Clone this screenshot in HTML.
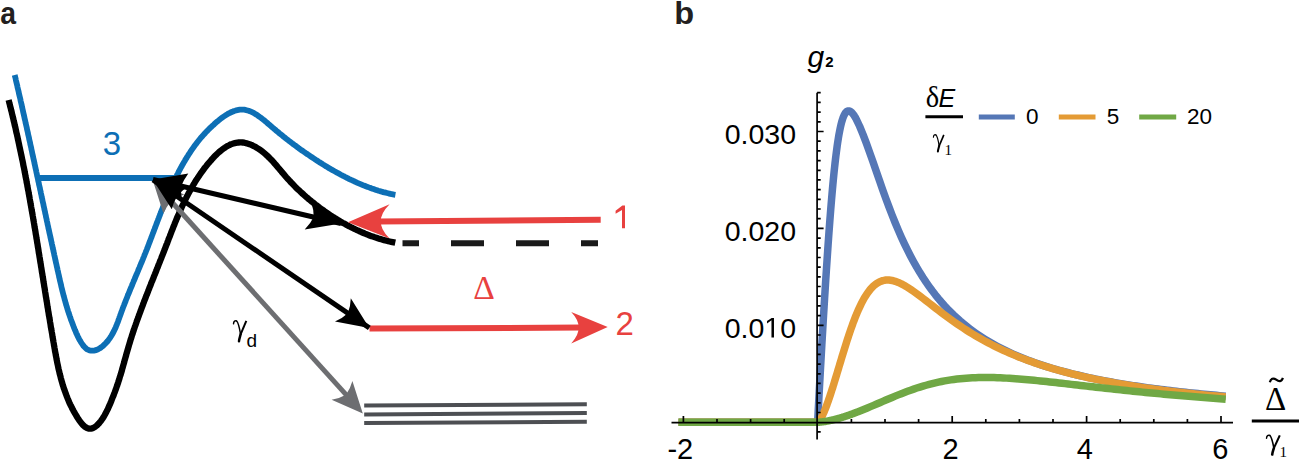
<!DOCTYPE html>
<html><head><meta charset="utf-8"><style>
html,body{margin:0;padding:0;background:#fff;}
body{width:1299px;height:460px;overflow:hidden;font-family:"Liberation Sans",sans-serif;}
svg{display:block;}
</style></head><body>
<svg width="1299" height="460" viewBox="0 0 1299 460">
<path d="M14.7,75.0 L15.0,76.2 L15.3,77.4 L15.6,78.6 L15.8,79.8 L16.1,81.1 L16.4,82.3 L16.7,83.5 L17.0,84.7 L17.3,85.9 L17.5,87.1 L17.8,88.4 L18.1,89.6 L18.4,90.8 L18.7,92.0 L18.9,93.3 L19.2,94.5 L19.5,95.7 L19.8,96.9 L20.1,98.2 L20.4,99.4 L20.6,100.6 L20.9,101.9 L21.2,103.1 L21.5,104.3 L21.8,105.6 L22.0,106.8 L22.3,108.0 L22.6,109.3 L22.9,110.5 L23.1,111.8 L23.4,113.0 L23.7,114.2 L24.0,115.5 L24.3,116.7 L24.5,118.0 L24.8,119.2 L25.1,120.4 L25.4,121.7 L25.6,122.9 L25.9,124.2 L26.2,125.4 L26.5,126.7 L26.8,127.9 L27.0,129.2 L27.3,130.4 L27.6,131.7 L27.9,132.9 L28.1,134.2 L28.4,135.4 L28.7,136.7 L29.0,137.9 L29.2,139.2 L29.5,140.4 L29.8,141.7 L30.1,142.9 L30.3,144.2 L30.6,145.4 L30.9,146.7 L31.2,147.9 L31.4,149.2 L31.7,150.4 L32.0,151.7 L32.2,153.0 L32.5,154.2 L32.8,155.5 L33.1,156.7 L33.3,158.0 L33.6,159.2 L33.9,160.5 L34.2,161.7 L34.4,163.0 L34.7,164.3 L35.0,165.5 L35.2,166.8 L35.5,168.0 L35.8,169.3 L36.1,170.5 L36.3,171.8 L36.6,173.1 L36.9,174.3 L37.1,175.6 L37.4,176.8 L37.7,178.1 L38.0,179.3 L38.2,180.6 L38.5,181.9 L38.8,183.1 L39.0,184.4 L39.3,185.6 L39.6,186.9 L39.9,188.1 L40.1,189.4 L40.4,190.6 L40.7,191.9 L40.9,193.1 L41.2,194.4 L41.5,195.7 L41.7,196.9 L42.0,198.2 L42.3,199.4 L42.5,200.7 L42.8,201.9 L43.1,203.2 L43.4,204.4 L43.6,205.7 L43.9,206.9 L44.2,208.2 L44.4,209.4 L44.7,210.7 L45.0,211.9 L45.2,213.2 L45.5,214.4 L45.8,215.6 L46.0,216.9 L46.3,218.1 L46.6,219.4 L46.8,220.6 L47.1,221.9 L47.4,223.1 L47.6,224.4 L47.9,225.6 L48.2,226.8 L48.4,228.1 L48.7,229.3 L49.0,230.5 L49.2,231.8 L49.5,233.0 L49.8,234.3 L50.1,235.5 L50.3,236.7 L50.6,238.0 L50.9,239.2 L51.1,240.4 L51.4,241.6 L51.7,242.9 L51.9,244.1 L52.2,245.3 L52.5,246.6 L52.7,247.8 L53.0,249.0 L53.3,250.2 L53.5,251.4 L53.8,252.7 L54.1,253.9 L54.3,255.1 L54.6,256.3 L54.9,257.5 L55.1,258.7 L55.4,260.0 L55.7,261.2 L55.9,262.4 L56.2,263.6 L56.5,264.8 L56.7,266.0 L57.0,267.2 L57.3,268.4 L57.5,269.6 L57.8,270.8 L58.1,272.0 L58.3,273.2 L58.6,274.4 L58.9,275.6 L59.1,276.8 L59.4,278.0 L59.7,279.2 L59.9,280.4 L60.2,281.6 L60.5,282.8 L60.8,284.0 L61.1,285.2 L61.3,286.4 L61.6,287.6 L61.9,288.8 L62.2,290.0 L62.5,291.2 L62.8,292.4 L63.1,293.6 L63.4,294.8 L63.7,296.0 L64.1,297.2 L64.4,298.4 L64.7,299.7 L65.1,300.9 L65.4,302.1 L65.8,303.3 L66.1,304.6 L66.5,305.8 L66.9,307.0 L67.2,308.3 L67.6,309.5 L68.0,310.8 L68.4,312.0 L68.8,313.3 L69.3,314.6 L69.7,315.9 L70.1,317.1 L70.6,318.4 L71.0,319.7 L71.5,321.0 L72.0,322.3 L72.5,323.6 L73.0,324.9 L73.5,326.3 L74.0,327.6 L74.5,328.9 L75.1,330.3 L75.7,331.6 L76.2,333.0 L76.9,334.3 L77.5,335.7 L78.1,337.0 L78.8,338.4 L79.5,339.7 L80.3,341.0 L81.0,342.3 L81.8,343.5 L82.6,344.7 L83.4,345.8 L84.3,346.8 L85.2,347.7 L86.1,348.5 L87.0,349.2 L87.9,349.7 L88.9,350.1 L89.8,350.5 L90.8,350.7 L91.8,350.7 L92.8,350.7 L93.8,350.6 L94.9,350.4 L95.9,350.1 L96.9,349.8 L97.9,349.3 L98.9,348.8 L99.9,348.2 L100.9,347.5 L101.9,346.8 L102.9,346.0 L103.8,345.1 L104.8,344.2 L105.7,343.3 L106.6,342.3 L107.5,341.3 L108.3,340.2 L109.2,339.1 L110.0,338.0 L110.7,336.8 L111.4,335.7 L112.1,334.5 L112.8,333.3 L113.4,332.1 L114.0,330.9 L114.6,329.7 L115.2,328.5 L115.7,327.3 L116.2,326.0 L116.7,324.8 L117.2,323.5 L117.7,322.3 L118.2,321.0 L118.6,319.8 L119.1,318.5 L119.5,317.3 L120.0,316.0 L120.4,314.8 L120.9,313.6 L121.3,312.3 L121.8,311.1 L122.2,309.9 L122.7,308.6 L123.1,307.4 L123.6,306.2 L124.1,305.0 L124.5,303.8 L125.0,302.6 L125.5,301.4 L125.9,300.2 L126.4,299.0 L126.9,297.8 L127.4,296.6 L127.8,295.4 L128.3,294.3 L128.8,293.1 L129.3,291.9 L129.8,290.7 L130.2,289.6 L130.7,288.4 L131.2,287.2 L131.7,286.1 L132.2,284.9 L132.6,283.7 L133.1,282.6 L133.6,281.4 L134.1,280.3 L134.6,279.1 L135.1,277.9 L135.5,276.8 L136.0,275.6 L136.5,274.5 L137.0,273.3 L137.5,272.2 L138.0,271.0 L138.4,269.9 L138.9,268.7 L139.4,267.6 L139.9,266.4 L140.4,265.3 L140.8,264.1 L141.3,263.0 L141.8,261.8 L142.3,260.6 L142.8,259.5 L143.2,258.3 L143.7,257.2 L144.2,256.0 L144.6,254.8 L145.1,253.7 L145.6,252.5 L146.0,251.3 L146.5,250.2 L147.0,249.0 L147.4,247.8 L147.9,246.7 L148.3,245.5 L148.8,244.3 L149.2,243.1 L149.7,241.9 L150.1,240.8 L150.6,239.6 L151.0,238.4 L151.5,237.2 L151.9,236.0 L152.4,234.8 L152.8,233.6 L153.3,232.5 L153.7,231.3 L154.2,230.1 L154.6,228.9 L155.1,227.7 L155.5,226.5 L156.0,225.3 L156.4,224.1 L156.9,222.9 L157.3,221.7 L157.8,220.5 L158.2,219.3 L158.7,218.2 L159.1,217.0 L159.6,215.8 L160.1,214.6 L160.5,213.4 L161.0,212.2 L161.4,211.0 L161.9,209.8 L162.4,208.6 L162.8,207.5 L163.3,206.3 L163.8,205.1 L164.3,203.9 L164.7,202.7 L165.2,201.5 L165.7,200.4 L166.2,199.2 L166.7,198.0 L167.2,196.8 L167.6,195.7 L168.1,194.5 L168.6,193.3 L169.1,192.1 L169.6,191.0 L170.2,189.8 L170.7,188.6 L171.2,187.5 L171.7,186.3 L172.2,185.2 L172.8,184.0 L173.3,182.9 L173.8,181.7 L174.4,180.6 L174.9,179.4 L175.5,178.3 L176.0,177.2 L176.6,176.0 L177.1,174.9 L177.7,173.8 L178.3,172.6 L178.9,171.5 L179.4,170.4 L180.0,169.3 L180.6,168.2 L181.2,167.1 L181.8,166.0 L182.4,164.9 L183.1,163.8 L183.7,162.7 L184.3,161.6 L185.0,160.5 L185.6,159.4 L186.3,158.4 L186.9,157.3 L187.6,156.2 L188.2,155.2 L188.9,154.1 L189.6,153.1 L190.3,152.0 L191.0,151.0 L191.7,149.9 L192.4,148.9 L193.2,147.9 L193.9,146.8 L194.6,145.8 L195.4,144.8 L196.2,143.8 L196.9,142.8 L197.7,141.8 L198.5,140.8 L199.3,139.8 L200.1,138.8 L200.9,137.8 L201.8,136.9 L202.6,135.9 L203.5,134.9 L204.3,134.0 L205.2,133.0 L206.1,132.1 L207.0,131.1 L207.9,130.2 L208.8,129.3 L209.7,128.4 L210.7,127.5 L211.6,126.6 L212.6,125.7 L213.6,124.8 L214.5,123.9 L215.5,123.0 L216.6,122.1 L217.6,121.3 L218.6,120.4 L219.7,119.6 L220.7,118.7 L221.8,117.9 L222.9,117.1 L224.0,116.4 L225.1,115.7 L226.2,114.9 L227.3,114.3 L228.4,113.6 L229.5,113.0 L230.6,112.5 L231.7,112.0 L232.9,111.5 L234.0,111.0 L235.1,110.7 L236.3,110.3 L237.4,110.1 L238.5,109.9 L239.7,109.7 L240.8,109.6 L242.0,109.6 L243.1,109.6 L244.2,109.7 L245.3,109.9 L246.5,110.2 L247.6,110.5 L248.7,110.8 L249.8,111.2 L250.9,111.7 L252.0,112.2 L253.1,112.7 L254.2,113.3 L255.3,114.0 L256.4,114.6 L257.5,115.3 L258.5,116.1 L259.6,116.9 L260.7,117.6 L261.8,118.5 L262.8,119.3 L263.9,120.1 L265.0,121.0 L266.0,121.9 L267.1,122.8 L268.1,123.7 L269.1,124.5 L270.2,125.4 L271.2,126.3 L272.2,127.2 L273.3,128.1 L274.3,129.0 L275.3,129.8 L276.3,130.7 L277.3,131.5 L278.3,132.3 L279.3,133.2 L280.3,134.0 L281.3,134.8 L282.3,135.6 L283.3,136.4 L284.3,137.2 L285.2,138.0 L286.2,138.7 L287.2,139.5 L288.2,140.3 L289.2,141.0 L290.2,141.8 L291.1,142.5 L292.1,143.3 L293.1,144.0 L294.1,144.7 L295.1,145.5 L296.1,146.2 L297.0,146.9 L298.0,147.6 L299.0,148.4 L300.0,149.1 L301.0,149.8 L302.0,150.5 L303.0,151.2 L304.0,151.9 L305.1,152.6 L306.1,153.3 L307.1,154.0 L308.1,154.7 L309.2,155.4 L310.2,156.1 L311.2,156.8 L312.3,157.5 L313.3,158.2 L314.4,158.9 L315.4,159.6 L316.5,160.3 L317.6,161.0 L318.6,161.7 L319.7,162.4 L320.8,163.0 L321.9,163.7 L322.9,164.4 L324.0,165.1 L325.1,165.7 L326.2,166.4 L327.3,167.0 L328.4,167.7 L329.5,168.4 L330.6,169.0 L331.7,169.7 L332.9,170.3 L334.0,170.9 L335.1,171.6 L336.2,172.2 L337.4,172.8 L338.5,173.4 L339.6,174.0 L340.8,174.7 L341.9,175.3 L343.0,175.9 L344.2,176.4 L345.3,177.0 L346.5,177.6 L347.6,178.2 L348.8,178.8 L349.9,179.3 L351.1,179.9 L352.3,180.4 L353.4,181.0 L354.6,181.5 L355.8,182.0 L356.9,182.6 L358.1,183.1 L359.3,183.6 L360.5,184.1 L361.7,184.6 L362.8,185.1 L364.0,185.6 L365.2,186.0 L366.4,186.5 L367.6,186.9 L368.8,187.4 L370.0,187.8 L371.2,188.3 L372.4,188.7 L373.6,189.1 L374.8,189.5 L376.0,189.9 L377.2,190.3 L378.4,190.7 L379.6,191.0 L380.8,191.4 L382.0,191.7 L383.2,192.1 L384.4,192.4 L385.7,192.7 L386.9,193.0 L388.1,193.3 L389.3,193.6 L390.5,193.9 L391.7,194.2 L393.0,194.4 L394.2,194.7 L395.4,194.9" fill="none" stroke="#0d6fb5" stroke-width="5.8"/>
<line x1="38" y1="178.1" x2="178" y2="178.1" stroke="#0d6fb5" stroke-width="6"/>
<path d="M8.6,100.0 L9.0,101.4 L9.3,102.8 L9.7,104.2 L10.0,105.6 L10.4,107.1 L10.8,108.5 L11.1,109.9 L11.5,111.3 L11.8,112.7 L12.1,114.1 L12.5,115.5 L12.8,116.9 L13.2,118.3 L13.5,119.8 L13.8,121.2 L14.2,122.6 L14.5,124.0 L14.8,125.4 L15.2,126.8 L15.5,128.2 L15.8,129.6 L16.1,131.0 L16.4,132.5 L16.8,133.9 L17.1,135.3 L17.4,136.7 L17.7,138.1 L18.0,139.5 L18.3,140.9 L18.6,142.3 L18.9,143.7 L19.2,145.2 L19.5,146.6 L19.8,148.0 L20.1,149.4 L20.4,150.8 L20.7,152.2 L21.0,153.6 L21.3,155.0 L21.6,156.4 L21.9,157.9 L22.2,159.3 L22.5,160.7 L22.8,162.1 L23.1,163.5 L23.3,164.9 L23.6,166.3 L23.9,167.7 L24.2,169.1 L24.5,170.6 L24.7,172.0 L25.0,173.4 L25.3,174.8 L25.5,176.2 L25.8,177.6 L26.1,179.0 L26.4,180.4 L26.6,181.9 L26.9,183.3 L27.2,184.7 L27.4,186.1 L27.7,187.5 L27.9,188.9 L28.2,190.3 L28.5,191.7 L28.7,193.2 L29.0,194.6 L29.2,196.0 L29.5,197.4 L29.7,198.8 L30.0,200.2 L30.2,201.6 L30.5,203.0 L30.7,204.5 L31.0,205.9 L31.2,207.3 L31.5,208.7 L31.7,210.1 L32.0,211.5 L32.2,212.9 L32.5,214.4 L32.7,215.8 L33.0,217.2 L33.2,218.6 L33.4,220.0 L33.7,221.4 L33.9,222.8 L34.2,224.3 L34.4,225.7 L34.6,227.1 L34.9,228.5 L35.1,229.9 L35.4,231.3 L35.6,232.7 L35.8,234.2 L36.1,235.6 L36.3,237.0 L36.5,238.4 L36.8,239.8 L37.0,241.2 L37.2,242.7 L37.5,244.1 L37.7,245.5 L37.9,246.9 L38.2,248.3 L38.4,249.7 L38.6,251.2 L38.8,252.6 L39.1,254.0 L39.3,255.4 L39.5,256.8 L39.8,258.3 L40.0,259.7 L40.2,261.1 L40.4,262.5 L40.7,263.9 L40.9,265.3 L41.1,266.8 L41.4,268.2 L41.6,269.6 L41.8,271.0 L42.0,272.4 L42.3,273.9 L42.5,275.3 L42.7,276.7 L43.0,278.1 L43.2,279.5 L43.4,281.0 L43.6,282.4 L43.9,283.8 L44.1,285.2 L44.3,286.7 L44.6,288.1 L44.8,289.5 L45.0,290.9 L45.2,292.3 L45.5,293.8 L45.7,295.2 L45.9,296.6 L46.2,298.0 L46.4,299.5 L46.6,300.9 L46.9,302.3 L47.1,303.7 L47.3,305.2 L47.5,306.6 L47.8,308.0 L48.0,309.4 L48.2,310.9 L48.5,312.3 L48.7,313.7 L48.9,315.2 L49.2,316.6 L49.4,318.0 L49.7,319.4 L49.9,320.9 L50.1,322.3 L50.4,323.7 L50.6,325.1 L50.8,326.6 L51.1,328.0 L51.3,329.4 L51.6,330.9 L51.8,332.3 L52.1,333.7 L52.3,335.2 L52.5,336.6 L52.8,338.0 L53.0,339.4 L53.3,340.9 L53.5,342.3 L53.8,343.7 L54.0,345.2 L54.3,346.6 L54.5,348.0 L54.8,349.5 L55.0,350.9 L55.3,352.3 L55.6,353.8 L55.8,355.2 L56.1,356.6 L56.4,358.1 L56.6,359.5 L56.9,360.9 L57.2,362.4 L57.5,363.8 L57.8,365.2 L58.1,366.6 L58.4,368.1 L58.7,369.5 L59.1,370.9 L59.4,372.3 L59.7,373.8 L60.1,375.2 L60.5,376.6 L60.8,378.0 L61.2,379.4 L61.6,380.8 L62.0,382.2 L62.4,383.6 L62.8,385.1 L63.3,386.5 L63.7,387.9 L64.2,389.2 L64.7,390.6 L65.2,392.0 L65.7,393.4 L66.2,394.8 L66.7,396.2 L67.3,397.6 L67.8,398.9 L68.4,400.3 L69.0,401.7 L69.6,403.1 L70.2,404.4 L70.9,405.8 L71.6,407.1 L72.2,408.5 L73.0,409.8 L73.7,411.2 L74.4,412.5 L75.2,413.8 L76.0,415.2 L76.8,416.5 L77.6,417.8 L78.4,419.1 L79.3,420.4 L80.2,421.6 L81.1,422.8 L82.0,423.9 L82.9,424.9 L83.9,425.8 L84.8,426.7 L85.8,427.3 L86.8,427.9 L87.8,428.3 L88.8,428.6 L89.8,428.7 L90.9,428.6 L91.9,428.4 L92.9,428.0 L94.0,427.5 L95.0,426.9 L96.0,426.1 L97.0,425.3 L98.0,424.3 L99.0,423.3 L100.0,422.1 L101.0,420.9 L101.9,419.6 L102.8,418.2 L103.7,416.8 L104.6,415.3 L105.4,413.8 L106.2,412.3 L107.0,410.7 L107.8,409.1 L108.5,407.5 L109.2,405.9 L109.9,404.4 L110.6,402.8 L111.2,401.3 L111.8,399.7 L112.4,398.2 L113.0,396.7 L113.6,395.3 L114.1,393.8 L114.7,392.4 L115.2,391.0 L115.7,389.6 L116.2,388.2 L116.7,386.8 L117.2,385.4 L117.6,384.1 L118.1,382.7 L118.5,381.3 L119.0,380.0 L119.4,378.6 L119.8,377.2 L120.2,375.9 L120.7,374.5 L121.1,373.1 L121.5,371.8 L121.9,370.4 L122.2,369.0 L122.6,367.7 L123.0,366.3 L123.4,364.9 L123.8,363.6 L124.2,362.2 L124.5,360.8 L124.9,359.5 L125.3,358.1 L125.7,356.8 L126.1,355.4 L126.4,354.0 L126.8,352.7 L127.2,351.3 L127.6,350.0 L128.0,348.6 L128.4,347.3 L128.8,345.9 L129.2,344.5 L129.6,343.2 L130.0,341.8 L130.4,340.5 L130.8,339.1 L131.3,337.8 L131.7,336.4 L132.1,335.0 L132.6,333.7 L133.0,332.3 L133.5,331.0 L133.9,329.6 L134.4,328.3 L134.8,326.9 L135.3,325.6 L135.8,324.2 L136.3,322.8 L136.7,321.5 L137.2,320.1 L137.7,318.8 L138.2,317.4 L138.7,316.1 L139.2,314.7 L139.7,313.4 L140.2,312.0 L140.7,310.7 L141.2,309.3 L141.7,308.0 L142.2,306.6 L142.7,305.3 L143.2,303.9 L143.7,302.6 L144.2,301.2 L144.8,299.9 L145.3,298.5 L145.8,297.2 L146.3,295.8 L146.9,294.5 L147.4,293.1 L147.9,291.8 L148.4,290.4 L149.0,289.1 L149.5,287.7 L150.0,286.4 L150.6,285.0 L151.1,283.7 L151.6,282.3 L152.2,281.0 L152.7,279.6 L153.3,278.3 L153.8,276.9 L154.3,275.6 L154.9,274.2 L155.4,272.9 L156.0,271.5 L156.5,270.2 L157.0,268.8 L157.6,267.5 L158.1,266.1 L158.6,264.8 L159.2,263.4 L159.7,262.1 L160.2,260.8 L160.8,259.4 L161.3,258.1 L161.8,256.7 L162.4,255.4 L162.9,254.0 L163.4,252.7 L164.0,251.3 L164.5,250.0 L165.0,248.6 L165.5,247.3 L166.0,246.0 L166.6,244.6 L167.1,243.3 L167.6,241.9 L168.1,240.6 L168.6,239.2 L169.1,237.9 L169.7,236.6 L170.2,235.2 L170.7,233.9 L171.2,232.5 L171.7,231.2 L172.3,229.9 L172.8,228.5 L173.3,227.2 L173.8,225.9 L174.4,224.5 L174.9,223.2 L175.4,221.9 L176.0,220.6 L176.5,219.2 L177.1,217.9 L177.6,216.6 L178.2,215.3 L178.8,214.0 L179.3,212.7 L179.9,211.4 L180.5,210.0 L181.1,208.7 L181.6,207.4 L182.2,206.1 L182.8,204.8 L183.5,203.5 L184.1,202.3 L184.7,201.0 L185.3,199.7 L186.0,198.4 L186.6,197.1 L187.3,195.8 L187.9,194.6 L188.6,193.3 L189.3,192.0 L190.0,190.8 L190.6,189.5 L191.4,188.3 L192.1,187.0 L192.8,185.8 L193.5,184.5 L194.3,183.3 L195.0,182.0 L195.8,180.8 L196.6,179.6 L197.4,178.4 L198.2,177.1 L199.0,175.9 L199.8,174.7 L200.7,173.5 L201.5,172.3 L202.4,171.1 L203.3,169.9 L204.1,168.7 L205.0,167.6 L206.0,166.4 L206.9,165.2 L207.8,164.0 L208.8,162.9 L209.8,161.7 L210.8,160.6 L211.8,159.4 L212.8,158.3 L213.8,157.2 L214.9,156.1 L216.0,155.0 L217.0,154.0 L218.1,153.0 L219.2,152.0 L220.4,151.0 L221.5,150.1 L222.6,149.2 L223.8,148.4 L225.0,147.6 L226.1,146.8 L227.3,146.1 L228.6,145.5 L229.8,144.9 L231.0,144.3 L232.3,143.9 L233.5,143.4 L234.8,143.1 L236.1,142.8 L237.4,142.6 L238.7,142.5 L240.0,142.4 L241.3,142.4 L242.6,142.5 L244.0,142.7 L245.3,143.0 L246.7,143.3 L248.0,143.7 L249.4,144.1 L250.7,144.7 L252.1,145.2 L253.4,145.9 L254.7,146.6 L256.0,147.3 L257.3,148.1 L258.6,148.9 L259.8,149.7 L261.1,150.6 L262.3,151.5 L263.4,152.4 L264.6,153.4 L265.7,154.3 L266.8,155.3 L267.9,156.3 L268.9,157.4 L270.0,158.4 L271.0,159.5 L272.0,160.5 L273.0,161.6 L273.9,162.7 L274.9,163.8 L275.9,164.9 L276.8,166.0 L277.7,167.1 L278.7,168.2 L279.6,169.3 L280.5,170.4 L281.5,171.5 L282.4,172.7 L283.3,173.7 L284.3,174.8 L285.2,175.9 L286.1,177.0 L287.1,178.1 L288.0,179.1 L289.0,180.2 L290.0,181.2 L290.9,182.3 L291.9,183.3 L292.9,184.3 L293.9,185.3 L294.9,186.4 L295.9,187.4 L296.9,188.4 L297.9,189.4 L299.0,190.3 L300.0,191.3 L301.1,192.3 L302.1,193.3 L303.2,194.2 L304.2,195.2 L305.3,196.1 L306.4,197.1 L307.5,198.0 L308.6,199.0 L309.7,199.9 L310.8,200.8 L311.9,201.7 L313.1,202.6 L314.2,203.5 L315.3,204.4 L316.5,205.3 L317.6,206.2 L318.8,207.0 L319.9,207.9 L321.1,208.8 L322.3,209.6 L323.4,210.4 L324.6,211.3 L325.8,212.1 L327.0,212.9 L328.2,213.7 L329.4,214.6 L330.6,215.4 L331.8,216.1 L333.0,216.9 L334.3,217.7 L335.5,218.5 L336.7,219.2 L337.9,220.0 L339.2,220.7 L340.4,221.5 L341.7,222.2 L342.9,222.9 L344.2,223.6 L345.5,224.3 L346.7,225.0 L348.0,225.7 L349.3,226.3 L350.6,227.0 L351.9,227.6 L353.1,228.3 L354.4,228.9 L355.7,229.5 L357.0,230.1 L358.4,230.7 L359.7,231.3 L361.0,231.9 L362.3,232.5 L363.6,233.0 L365.0,233.6 L366.3,234.1 L367.6,234.7 L369.0,235.2 L370.3,235.7 L371.7,236.2 L373.0,236.6 L374.4,237.1 L375.8,237.6 L377.1,238.0 L378.5,238.5 L379.9,238.9 L381.3,239.3 L382.7,239.7 L384.0,240.1 L385.4,240.4 L386.8,240.8 L388.2,241.2 L389.6,241.5 L391.1,241.8 L392.5,242.1 L393.9,242.4 L395.3,242.7" fill="none" stroke="#000" stroke-width="6.3"/>
<line x1="402.5" y1="243.3" x2="598" y2="243.3" stroke="#1a1a1a" stroke-width="6" stroke-dasharray="33 32" stroke-dashoffset="16.5"/>
<line x1="600.7" y1="219.8" x2="378" y2="221.6" stroke="#e8413f" stroke-width="6"/>
<path d="M348,222.2 L389.6,204.3 Q380,214 381,221.6 Q380,229 389.6,238.6 Z" fill="#e8413f"/>
<line x1="369.5" y1="328.6" x2="582" y2="327.6" stroke="#e8413f" stroke-width="6"/>
<path d="M607.7,327.1 L571.2,311.9 Q579,320 578.6,327.6 Q579,335 571.2,343.4 Z" fill="#e8413f"/>
<line x1="165.0" y1="194.5" x2="350.8" y2="399.9" stroke="#6d6e71" stroke-width="5"/>
<path d="M153.0,181.0 L163.4,213.4 Q166.6,206.5 171.1,201.0 Q177.0,197.1 184.2,194.6 Z" fill="#6d6e71"/>
<path d="M362.8,413.4 L352.4,381.0 Q350.2,389.0 346.0,394.8 Q339.8,398.4 331.6,399.8 Z" fill="#6d6e71"/>
<line x1="153.0" y1="179.5" x2="341.0" y2="223.5" stroke="#000" stroke-width="5"/>
<line x1="153.0" y1="180.0" x2="369.3" y2="327.9" stroke="#000" stroke-width="5"/>
<path d="M153.0,179.5 L181.9,200.7 Q180.6,193.2 181.2,186.1 Q183.8,179.5 188.3,173.4 Z" fill="#000"/>
<path d="M341.0,223.5 L311.1,202.1 Q313.9,210.0 313.7,217.1 Q310.7,223.6 304.7,229.4 Z" fill="#000"/>
<path d="M153.0,180.0 L171.8,209.2 Q173.5,202.2 176.9,196.4 Q181.2,191.1 187.0,186.9 Z" fill="#000"/>
<path d="M369.3,327.9 L350.8,298.3 Q350.6,306.6 347.8,313.2 Q342.6,318.2 335.0,321.4 Z" fill="#000"/>
<line x1="364.2" y1="405.5" x2="586.8" y2="404.3" stroke="#4d4f53" stroke-width="4"/>
<line x1="364.2" y1="414.4" x2="586.8" y2="413.0" stroke="#4d4f53" stroke-width="4"/>
<line x1="364.2" y1="423.1" x2="586.8" y2="421.7" stroke="#4d4f53" stroke-width="4"/>
<text transform="translate(0.2,24.2) scale(0.9,1)" font-family="Liberation Sans" font-weight="bold" font-size="31.5" fill="#231f20">a</text>
<text x="102.7" y="154.5" font-family="Liberation Sans" font-size="33" fill="#0d6fb5">3</text>
<path d="M625,205.5 L625,228.3 L622,228.3 L622,209.9 L615.6,213.7 L615.6,210.7 L622.4,205.5 Z" fill="#e8413f"/>
<text x="615.4" y="335" font-family="Liberation Sans" font-size="33" fill="#e8413f">2</text>
<text x="473.2" y="299" font-family="Liberation Serif" font-size="33.5" fill="#e8413f">&#916;</text>
<path d="M233.50,323.90 C233.60,321.20 235.20,320.10 236.60,321.00" fill="none" stroke="#000" stroke-width="1.40" stroke-linecap="round"/>
<path d="M236.60,321.00 C238.30,322.30 239.60,328.50 240.60,334.40" fill="none" stroke="#000" stroke-width="1.50" stroke-linecap="round"/>
<path d="M246.30,320.90 L240.60,334.40" fill="none" stroke="#000" stroke-width="2.00" stroke-linecap="butt"/>
<path d="M240.60,334.40 C239.90,337.00 239.10,339.20 239.00,341.20" fill="none" stroke="#000" stroke-width="2.50" stroke-linecap="round"/>
<text x="246.6" y="346.5" font-family="Liberation Sans" font-size="19" fill="#000">d</text>
<text transform="translate(674.2,24.2) scale(1.05,1)" font-family="Liberation Sans" font-weight="bold" font-size="31" fill="#231f20">b</text>
<text x="796" y="144.1" text-anchor="end" font-family="Liberation Sans" font-size="28.5" fill="#000">0.030</text>
<text x="796" y="240.8" text-anchor="end" font-family="Liberation Sans" font-size="28.5" fill="#000">0.020</text>
<text x="724.68" y="337.5" font-family="Liberation Sans" font-size="28.5" fill="#000">0.0</text>
<path d="M771.47,337.50 L771.47,320.29 L767.04,323.44 L767.04,321.08 L771.67,317.89 L773.98,317.89 L773.98,337.50 Z" fill="#000"/>
<text x="780.15" y="337.5" font-family="Liberation Sans" font-size="28.5" fill="#000">0</text>
<text x="680.3" y="458.6" text-anchor="middle" font-family="Liberation Sans" font-size="29" fill="#000">-2</text>
<text x="950.6" y="458.6" text-anchor="middle" font-family="Liberation Sans" font-size="29" fill="#000">2</text>
<text x="1084.9" y="458.6" text-anchor="middle" font-family="Liberation Sans" font-size="29" fill="#000">4</text>
<text x="1220.3" y="458.6" text-anchor="middle" font-family="Liberation Sans" font-size="29" fill="#000">6</text>
<path d="M678.5,422.2 L817.8,422.2 L817.81,419.24 L817.94,416.50 L818.07,413.84 L818.20,411.22 L818.33,408.65 L818.46,406.10 L818.60,403.58 L818.73,401.08 L818.86,398.59 L818.99,396.12 L819.12,393.67 L819.25,391.23 L819.38,388.80 L819.51,386.38 L819.64,383.98 L819.77,381.58 L819.91,379.20 L820.04,376.82 L820.17,374.45 L820.30,372.10 L820.43,369.75 L820.56,367.41 L820.69,365.07 L820.82,362.75 L820.95,360.43 L821.40,352.44 L821.85,344.53 L822.31,336.72 L822.76,329.00 L823.20,321.39 L823.65,313.87 L824.10,306.45 L824.55,299.14 L824.99,291.93 L825.44,284.84 L825.88,277.86 L826.32,271.01 L826.77,264.27 L827.21,257.66 L827.65,251.19 L828.09,244.84 L828.52,238.64 L828.96,232.57 L829.40,226.65 L829.83,220.87 L830.27,215.24 L830.70,209.75 L831.13,204.43 L831.57,199.25 L832.00,194.23 L832.43,189.37 L832.86,184.66 L833.29,180.11 L833.72,175.72 L834.15,171.49 L834.58,167.41 L835.00,163.50 L835.43,159.74 L835.86,156.14 L836.29,152.70 L836.72,149.41 L837.14,146.27 L837.57,143.29 L838.00,140.45 L838.43,137.77 L838.86,135.23 L839.29,132.83 L839.72,130.58 L840.16,128.47 L840.59,126.49 L841.02,124.65 L841.46,122.93 L841.89,121.35 L842.33,119.89 L842.77,118.55 L843.21,117.33 L843.65,116.23 L844.10,115.25 L844.54,114.37 L844.99,113.60 L845.44,112.93 L845.89,112.36 L846.34,111.89 L846.80,111.52 L847.25,111.23 L847.71,111.04 L848.17,110.93 L848.64,110.90 L849.10,110.95 L849.57,111.08 L850.04,111.28 L850.51,111.55 L850.99,111.88 L851.46,112.29 L851.94,112.75 L852.42,113.28 L852.90,113.86 L853.39,114.49 L853.87,115.18 L854.36,115.92 L854.85,116.70 L855.34,117.53 L855.84,118.41 L856.33,119.32 L859.63,126.24 L862.97,134.32 L866.32,143.15 L869.66,152.40 L872.97,161.84 L876.24,171.27 L879.47,180.57 L882.66,189.64 L885.81,198.43 L888.95,206.89 L892.06,215.00 L895.17,222.75 L898.27,230.14 L901.36,237.18 L904.45,243.87 L907.54,250.22 L910.63,256.26 L913.72,261.99 L916.81,267.43 L919.90,272.59 L922.99,277.50 L926.08,282.16 L929.17,286.58 L932.25,290.80 L935.34,294.80 L938.43,298.62 L941.52,302.25 L944.61,305.72 L947.70,309.02 L950.79,312.17 L953.88,315.19 L956.97,318.06 L960.06,320.82 L963.14,323.45 L966.23,325.97 L969.32,328.39 L972.41,330.71 L975.50,332.93 L978.59,335.06 L981.68,337.11 L984.77,339.08 L987.86,340.97 L990.94,342.79 L994.03,344.54 L997.12,346.23 L1000.21,347.86 L1003.30,349.43 L1006.39,350.94 L1009.48,352.40 L1012.57,353.81 L1015.66,355.17 L1018.74,356.49 L1021.83,357.76 L1024.92,358.99 L1028.01,360.18 L1031.10,361.34 L1034.19,362.45 L1037.28,363.54 L1040.37,364.58 L1043.46,365.60 L1046.55,366.59 L1049.63,367.54 L1052.72,368.47 L1055.81,369.38 L1058.90,370.25 L1061.99,371.10 L1065.08,371.93 L1068.17,372.74 L1071.26,373.52 L1074.35,374.28 L1077.43,375.02 L1080.52,375.75 L1083.61,376.45 L1086.70,377.13 L1089.79,377.80 L1092.88,378.45 L1095.97,379.09 L1099.06,379.70 L1102.15,380.31 L1105.24,380.90 L1108.32,381.47 L1111.41,382.03 L1114.50,382.58 L1117.59,383.11 L1120.68,383.63 L1123.77,384.14 L1126.86,384.64 L1129.95,385.13 L1133.04,385.61 L1136.12,386.07 L1139.21,386.53 L1142.30,386.97 L1145.39,387.41 L1148.48,387.84 L1151.57,388.25 L1154.66,388.66 L1157.75,389.06 L1160.84,389.46 L1163.93,389.84 L1167.01,390.22 L1170.10,390.59 L1173.19,390.95 L1176.28,391.30 L1179.37,391.65 L1182.46,391.99 L1185.55,392.33 L1188.64,392.65 L1191.73,392.97 L1194.81,393.29 L1197.90,393.60 L1200.99,393.90 L1204.08,394.20 L1207.17,394.50 L1210.26,394.78 L1213.35,395.07 L1216.44,395.34 L1219.53,395.62 L1222.62,395.88 L1225.70,396.15" fill="none" stroke="#5577b6" stroke-width="7.5" stroke-linejoin="round"/>
<path d="M678.5,422.2 L817.8,422.2 L817.93,422.16 L818.07,422.09 L818.20,422.00 L818.34,421.90 L818.47,421.78 L818.61,421.66 L818.74,421.52 L818.88,421.38 L819.01,421.23 L819.14,421.07 L819.28,420.90 L819.41,420.73 L819.55,420.55 L819.68,420.37 L819.82,420.18 L819.95,419.98 L820.08,419.78 L820.22,419.57 L820.35,419.36 L820.49,419.14 L820.62,418.92 L820.76,418.70 L820.89,418.47 L821.03,418.23 L821.16,417.99 L821.63,417.13 L822.10,416.21 L822.56,415.26 L823.03,414.26 L823.50,413.23 L823.97,412.16 L824.43,411.06 L824.90,409.92 L825.37,408.76 L825.84,407.56 L826.31,406.34 L826.77,405.09 L827.24,403.81 L827.71,402.52 L828.18,401.20 L828.65,399.86 L829.11,398.50 L829.58,397.12 L830.05,395.72 L830.52,394.30 L830.98,392.87 L831.45,391.43 L831.92,389.97 L832.39,388.49 L832.86,387.01 L833.32,385.51 L833.79,384.01 L834.26,382.49 L834.73,380.97 L835.20,379.44 L835.66,377.90 L836.13,376.36 L836.60,374.81 L837.07,373.26 L837.53,371.71 L838.00,370.15 L838.47,368.59 L838.94,367.03 L839.41,365.47 L839.87,363.91 L840.34,362.36 L840.81,360.80 L841.28,359.25 L841.75,357.70 L842.21,356.16 L842.68,354.62 L843.15,353.09 L843.62,351.56 L844.08,350.04 L844.55,348.53 L845.02,347.03 L845.49,345.54 L845.96,344.06 L846.42,342.58 L846.89,341.12 L847.36,339.67 L847.83,338.23 L848.30,336.80 L848.76,335.39 L849.23,333.99 L849.70,332.60 L850.17,331.23 L850.63,329.88 L851.10,328.53 L851.57,327.21 L852.04,325.90 L852.51,324.60 L852.97,323.32 L853.44,322.06 L853.91,320.82 L854.38,319.59 L854.85,318.38 L855.31,317.19 L855.78,316.02 L856.25,314.87 L856.72,313.73 L857.18,312.62 L857.65,311.52 L858.12,310.44 L861.21,303.82 L864.30,298.07 L867.39,293.19 L870.48,289.15 L873.56,285.93 L876.65,283.47 L879.74,281.72 L882.83,280.60 L885.92,280.07 L889.01,280.04 L892.10,280.46 L895.19,281.27 L898.28,282.41 L901.37,283.84 L904.45,285.50 L907.54,287.35 L910.63,289.36 L913.72,291.49 L916.81,293.72 L919.90,296.02 L922.99,298.37 L926.08,300.75 L929.17,303.15 L932.25,305.55 L935.34,307.94 L938.43,310.32 L941.52,312.66 L944.61,314.98 L947.70,317.26 L950.79,319.50 L953.88,321.70 L956.97,323.85 L960.06,325.95 L963.14,328.00 L966.23,330.01 L969.32,331.96 L972.41,333.86 L975.50,335.72 L978.59,337.52 L981.68,339.28 L984.77,340.99 L987.86,342.65 L990.94,344.26 L994.03,345.83 L997.12,347.36 L1000.21,348.84 L1003.30,350.29 L1006.39,351.69 L1009.48,353.05 L1012.57,354.37 L1015.66,355.66 L1018.74,356.91 L1021.83,358.12 L1024.92,359.31 L1028.01,360.46 L1031.10,361.57 L1034.19,362.66 L1037.28,363.72 L1040.37,364.75 L1043.46,365.75 L1046.55,366.72 L1049.63,367.67 L1052.72,368.59 L1055.81,369.49 L1058.90,370.37 L1061.99,371.22 L1065.08,372.05 L1068.17,372.86 L1071.26,373.65 L1074.35,374.42 L1077.43,375.17 L1080.52,375.90 L1083.61,376.61 L1086.70,377.31 L1089.79,377.99 L1092.88,378.65 L1095.97,379.30 L1099.06,379.93 L1102.15,380.55 L1105.24,381.15 L1108.32,381.74 L1111.41,382.31 L1114.50,382.87 L1117.59,383.42 L1120.68,383.96 L1123.77,384.48 L1126.86,385.00 L1129.95,385.50 L1133.04,385.99 L1136.12,386.47 L1139.21,386.94 L1142.30,387.40 L1145.39,387.85 L1148.48,388.29 L1151.57,388.72 L1154.66,389.14 L1157.75,389.56 L1160.84,389.96 L1163.93,390.36 L1167.01,390.75 L1170.10,391.13 L1173.19,391.50 L1176.28,391.87 L1179.37,392.23 L1182.46,392.58 L1185.55,392.93 L1188.64,393.27 L1191.73,393.60 L1194.81,393.93 L1197.90,394.25 L1200.99,394.56 L1204.08,394.87 L1207.17,395.17 L1210.26,395.47 L1213.35,395.76 L1216.44,396.05 L1219.53,396.33 L1222.62,396.60 L1225.70,396.88" fill="none" stroke="#e49b35" stroke-width="7.5" stroke-linejoin="round"/>
<path d="M678.5,422.2 L817.8,422.2 L817.93,422.20 L818.07,422.20 L818.20,422.19 L818.34,422.19 L818.47,422.18 L818.61,422.18 L818.74,422.17 L818.88,422.16 L819.01,422.16 L819.14,422.15 L819.28,422.14 L819.41,422.13 L819.55,422.12 L819.68,422.11 L819.82,422.10 L819.95,422.09 L820.08,422.08 L820.22,422.07 L820.35,422.06 L820.49,422.05 L820.62,422.03 L820.76,422.02 L820.89,422.01 L821.03,421.99 L821.16,421.98 L821.63,421.93 L822.10,421.88 L822.56,421.82 L823.03,421.76 L823.50,421.70 L823.97,421.63 L824.43,421.56 L824.90,421.49 L825.37,421.42 L825.84,421.34 L826.31,421.26 L826.77,421.18 L827.24,421.10 L827.71,421.01 L828.18,420.92 L828.65,420.83 L829.11,420.73 L829.58,420.64 L830.05,420.54 L830.52,420.44 L830.98,420.34 L831.45,420.23 L831.92,420.13 L832.39,420.02 L832.86,419.91 L833.32,419.80 L833.79,419.68 L834.26,419.57 L834.73,419.45 L835.20,419.33 L835.66,419.21 L836.13,419.08 L836.60,418.96 L837.07,418.83 L837.53,418.71 L838.00,418.58 L838.47,418.44 L838.94,418.31 L839.41,418.18 L839.87,418.04 L840.34,417.90 L840.81,417.76 L841.28,417.62 L841.75,417.48 L842.21,417.34 L842.68,417.19 L843.15,417.04 L843.62,416.90 L844.08,416.75 L844.55,416.60 L845.02,416.44 L845.49,416.29 L845.96,416.13 L846.42,415.98 L846.89,415.82 L847.36,415.66 L847.83,415.50 L848.30,415.34 L848.76,415.18 L849.23,415.02 L849.70,414.85 L850.17,414.69 L850.63,414.52 L851.10,414.35 L851.57,414.18 L852.04,414.01 L852.51,413.84 L852.97,413.67 L853.44,413.50 L853.91,413.32 L854.38,413.15 L854.85,412.97 L855.31,412.79 L855.78,412.61 L856.25,412.44 L856.72,412.26 L857.18,412.08 L857.65,411.89 L858.12,411.71 L861.21,410.49 L864.30,409.23 L867.39,407.95 L870.48,406.65 L873.56,405.34 L876.65,404.02 L879.74,402.69 L882.83,401.36 L885.92,400.03 L889.01,398.72 L892.10,397.42 L895.19,396.14 L898.28,394.89 L901.37,393.66 L904.45,392.47 L907.54,391.31 L910.63,390.18 L913.72,389.10 L916.81,388.06 L919.90,387.07 L922.99,386.13 L926.08,385.23 L929.17,384.39 L932.25,383.59 L935.34,382.85 L938.43,382.16 L941.52,381.52 L944.61,380.93 L947.70,380.39 L950.79,379.91 L953.88,379.47 L956.97,379.08 L960.06,378.74 L963.14,378.44 L966.23,378.19 L969.32,377.98 L972.41,377.81 L975.50,377.68 L978.59,377.58 L981.68,377.52 L984.77,377.50 L987.86,377.51 L990.94,377.54 L994.03,377.61 L997.12,377.70 L1000.21,377.82 L1003.30,377.96 L1006.39,378.12 L1009.48,378.30 L1012.57,378.50 L1015.66,378.72 L1018.74,378.96 L1021.83,379.21 L1024.92,379.47 L1028.01,379.74 L1031.10,380.03 L1034.19,380.33 L1037.28,380.63 L1040.37,380.94 L1043.46,381.26 L1046.55,381.59 L1049.63,381.92 L1052.72,382.26 L1055.81,382.60 L1058.90,382.95 L1061.99,383.29 L1065.08,383.64 L1068.17,383.99 L1071.26,384.35 L1074.35,384.70 L1077.43,385.05 L1080.52,385.41 L1083.61,385.76 L1086.70,386.11 L1089.79,386.47 L1092.88,386.82 L1095.97,387.17 L1099.06,387.51 L1102.15,387.86 L1105.24,388.20 L1108.32,388.54 L1111.41,388.88 L1114.50,389.22 L1117.59,389.55 L1120.68,389.88 L1123.77,390.21 L1126.86,390.54 L1129.95,390.86 L1133.04,391.17 L1136.12,391.49 L1139.21,391.80 L1142.30,392.11 L1145.39,392.41 L1148.48,392.72 L1151.57,393.01 L1154.66,393.31 L1157.75,393.60 L1160.84,393.89 L1163.93,394.17 L1167.01,394.45 L1170.10,394.73 L1173.19,395.00 L1176.28,395.28 L1179.37,395.54 L1182.46,395.81 L1185.55,396.07 L1188.64,396.32 L1191.73,396.58 L1194.81,396.83 L1197.90,397.08 L1200.99,397.32 L1204.08,397.56 L1207.17,397.80 L1210.26,398.03 L1213.35,398.26 L1216.44,398.49 L1219.53,398.72 L1222.62,398.94 L1225.70,399.16" fill="none" stroke="#70a845" stroke-width="7.5" stroke-linejoin="round"/>
<line x1="817.1" y1="92.7" x2="817.1" y2="439.5" stroke="#000" stroke-width="1.7"/>
<line x1="671.5" y1="422.6" x2="1233" y2="422.6" stroke="#000" stroke-width="1.7"/>
<path d="M817.1,431.9h3.6 M817.1,412.5h3.6 M817.1,402.8h3.6 M817.1,393.1h3.6 M817.1,383.4h3.6 M817.1,373.8h3.6 M817.1,364.1h3.6 M817.1,354.4h3.6 M817.1,344.7h3.6 M817.1,335.0h3.6 M817.1,325.3h6.5 M817.1,315.6h3.6 M817.1,305.9h3.6 M817.1,296.2h3.6 M817.1,286.5h3.6 M817.1,276.9h3.6 M817.1,267.2h3.6 M817.1,257.5h3.6 M817.1,247.8h3.6 M817.1,238.1h3.6 M817.1,228.4h6.5 M817.1,218.7h3.6 M817.1,209.0h3.6 M817.1,199.3h3.6 M817.1,189.6h3.6 M817.1,179.9h3.6 M817.1,170.3h3.6 M817.1,160.6h3.6 M817.1,150.9h3.6 M817.1,141.2h3.6 M817.1,131.5h6.5 M817.1,121.8h3.6 M817.1,112.1h3.6 M817.1,102.4h3.6 M817.1,92.7h3.6 M683.4,422.6v-6.5 M717.0,422.6v-3.6 M750.6,422.6v-3.6 M784.2,422.6v-3.6 M851.4,422.6v-3.6 M885.0,422.6v-3.6 M918.6,422.6v-3.6 M952.2,422.6v-6.5 M985.8,422.6v-3.6 M1019.4,422.6v-3.6 M1053.0,422.6v-3.6 M1086.6,422.6v-6.5 M1120.2,422.6v-3.6 M1153.8,422.6v-3.6 M1187.4,422.6v-3.6 M1221.0,422.6v-6.5" stroke="#000" stroke-width="1.7" fill="none"/>
<text x="807.5" y="67.3" font-family="Liberation Sans" font-style="italic" font-size="30" fill="#000">g</text>
<text x="825.2" y="67.4" font-family="Liberation Sans" font-weight="bold" font-size="15" fill="#000">2</text>
<text x="925.7" y="107.3" font-family="Liberation Serif" font-size="28.5" fill="#000">&#948;</text>
<text x="938.4" y="106.8" font-family="Liberation Sans" font-style="italic" font-size="25" fill="#000">E</text>
<line x1="925.4" y1="116.8" x2="963" y2="116.8" stroke="#000" stroke-width="3"/>
<path d="M933.41,137.28 C933.49,135.07 934.79,134.17 935.93,134.91" fill="none" stroke="#000" stroke-width="1.14" stroke-linecap="round"/>
<path d="M935.93,134.91 C937.32,135.97 938.38,141.05 939.19,145.87" fill="none" stroke="#000" stroke-width="1.22" stroke-linecap="round"/>
<path d="M943.84,134.83 L939.19,145.87" fill="none" stroke="#000" stroke-width="1.63" stroke-linecap="butt"/>
<path d="M939.19,145.87 C938.62,148.00 937.97,149.80 937.89,151.44" fill="none" stroke="#000" stroke-width="2.04" stroke-linecap="round"/>
<text x="944.6" y="155.3" font-family="Liberation Serif" font-size="15" fill="#000">1</text>
<line x1="978.8" y1="116.9" x2="1014.8" y2="116.9" stroke="#5577b6" stroke-width="5"/>
<text x="1026.0" y="123.6" font-family="Liberation Sans" font-size="22.5" fill="#000">0</text>
<line x1="1058.8" y1="116.9" x2="1095.5" y2="116.9" stroke="#e49b35" stroke-width="5"/>
<text x="1106.8" y="123.6" font-family="Liberation Sans" font-size="22.5" fill="#000">5</text>
<line x1="1139.2" y1="116.9" x2="1176.2" y2="116.9" stroke="#70a845" stroke-width="5"/>
<text x="1187.0" y="123.6" font-family="Liberation Sans" font-size="22.5" fill="#000">20</text>
<text x="1265" y="410.3" font-family="Liberation Serif" font-size="33" fill="#000">&#916;</text>
<path d="M1269.8,382.2 C1270.8,378.3 1273.4,377.6 1276.2,379.7 C1279,381.9 1281.6,382 1282.9,377.9" fill="none" stroke="#000" stroke-width="2.2"/>
<line x1="1251.8" y1="421" x2="1299" y2="421" stroke="#000" stroke-width="3"/>
<path d="M1266.52,438.21 C1266.62,435.66 1268.28,434.62 1269.73,435.47" fill="none" stroke="#000" stroke-width="1.45" stroke-linecap="round"/>
<path d="M1269.73,435.47 C1271.50,436.70 1272.84,442.56 1273.88,448.14" fill="none" stroke="#000" stroke-width="1.56" stroke-linecap="round"/>
<path d="M1279.79,435.38 L1273.88,448.14" fill="none" stroke="#000" stroke-width="2.07" stroke-linecap="butt"/>
<path d="M1273.88,448.14 C1273.16,450.60 1272.33,452.68 1272.22,454.57" fill="none" stroke="#000" stroke-width="2.59" stroke-linecap="round"/>
<text x="1279.5" y="457.3" font-family="Liberation Serif" font-size="15" fill="#000">1</text>
</svg>
</body></html>
